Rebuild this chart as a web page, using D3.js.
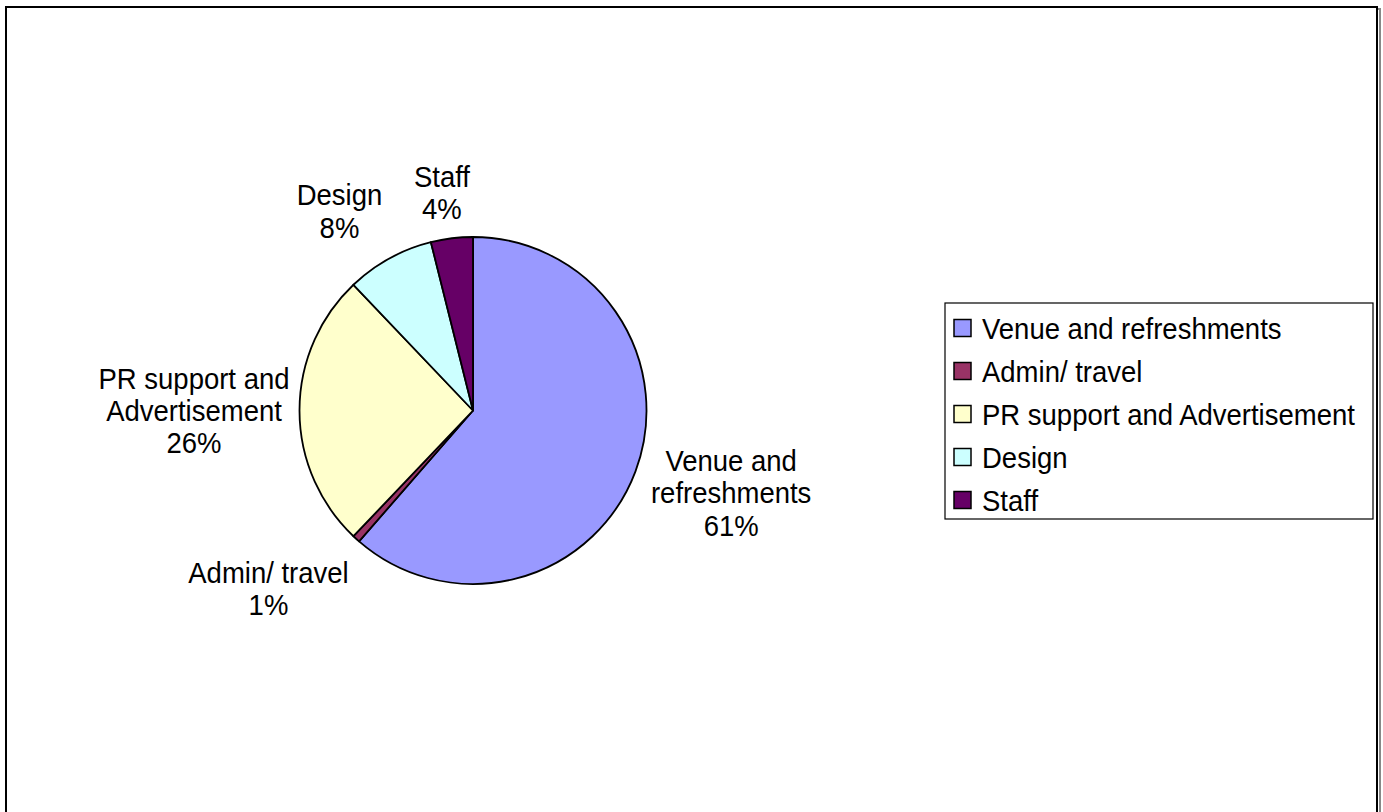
<!DOCTYPE html>
<html>
<head>
<meta charset="utf-8">
<script src="https://cdn.jsdelivr.net/npm/d3@7"></script>
<style>
  html, body { margin: 0; padding: 0; background: #fff; }
  svg { display: block; }
  text { font-family: "Liberation Sans", Arial, sans-serif; fill: #000; }
</style>
</head>
<body>
<svg id="chart" width="1383" height="812"></svg>
<script>
// ---- data ----
const categories = ["Venue and refreshments", "Admin/ travel", "PR support and Advertisement", "Design", "Staff"];
const labelLines = [["Venue and", "refreshments"], ["Admin/ travel"], ["PR support and", "Advertisement"], ["Design"], ["Staff"]];
const values = [61.4, 0.7, 25.8, 8.2, 3.9];
const colors = ["#9999FF", "#993366", "#FFFFCC", "#CCFFFF", "#660066"];

// ---- layout (label placement: radius from centre and angle tweak in degrees) ----
const labelRadius = [271, 271, 279, 240, 220];
const labelAngleTweak = [-2.8, 6.7, 0, -5, -1.1];

const cx = 473, cy = 410.5, R = 173.5;
const fontSize = 27.5, lineH = 32.5, capH = 21, vScale = 1.07;

const svg = d3.select("#chart");

// outer chart border with slight shadow
svg.append("rect").attr("x", 8).attr("y", 9).attr("width", 1372).attr("height", 820)
  .attr("fill", "none").attr("stroke", "#888").attr("stroke-width", 2);
svg.append("rect").attr("x", 6).attr("y", 7).attr("width", 1371).attr("height", 820)
  .attr("fill", "#fff").attr("stroke", "#000").attr("stroke-width", 2);

const total = d3.sum(values);
const pct = d3.format(".0%");

const pie = d3.pie().sort(null).value(d => d)(values);
const arc = d3.arc().innerRadius(0).outerRadius(R);

const g = svg.append("g").attr("transform", `translate(${cx},${cy})`);
g.selectAll("path.slice").data(pie).join("path")
  .attr("class", "slice")
  .attr("d", arc)
  .attr("fill", (d, i) => colors[i])
  .attr("stroke", "#000")
  .attr("stroke-width", 1.8)
  .attr("stroke-linejoin", "round");

// data labels
pie.forEach((d, i) => {
  const mid = (d.startAngle + d.endAngle) / 2 + labelAngleTweak[i] * Math.PI / 180;
  const r = labelRadius[i];
  const x = r * Math.sin(mid);
  const y = -r * Math.cos(mid);
  const lines = labelLines[i].concat([pct(values[i] / total)]);
  const blockH = (lines.length - 1) * lineH + capH;
  const firstBase = y - blockH / 2 + capH;
  const t = g.append("text")
    .attr("text-anchor", "middle")
    .attr("transform", `translate(${x},${firstBase}) scale(1,${vScale})`)
    .style("font-size", fontSize + "px");
  lines.forEach((ln, k) => {
    t.append("tspan").attr("x", 0).attr("y", k * lineH / vScale).text(ln);
  });
});

// legend
const lg = svg.append("g");
lg.append("rect").attr("x", 945).attr("y", 303).attr("width", 428).attr("height", 216)
  .attr("fill", "#fff").attr("stroke", "#000").attr("stroke-width", 1.2);
const legendY = d3.scalePoint().domain(categories).range([328, 500]);
categories.forEach((c, i) => {
  const yy = legendY(c);
  lg.append("rect").attr("x", 954).attr("y", yy - 8.5).attr("width", 17).attr("height", 17)
    .attr("fill", colors[i]).attr("stroke", "#000").attr("stroke-width", 1.5);
  lg.append("text")
    .attr("transform", `translate(982,${yy + 10.5}) scale(1,${vScale})`)
    .style("font-size", fontSize + "px").text(c);
});
</script>
</body>
</html>
